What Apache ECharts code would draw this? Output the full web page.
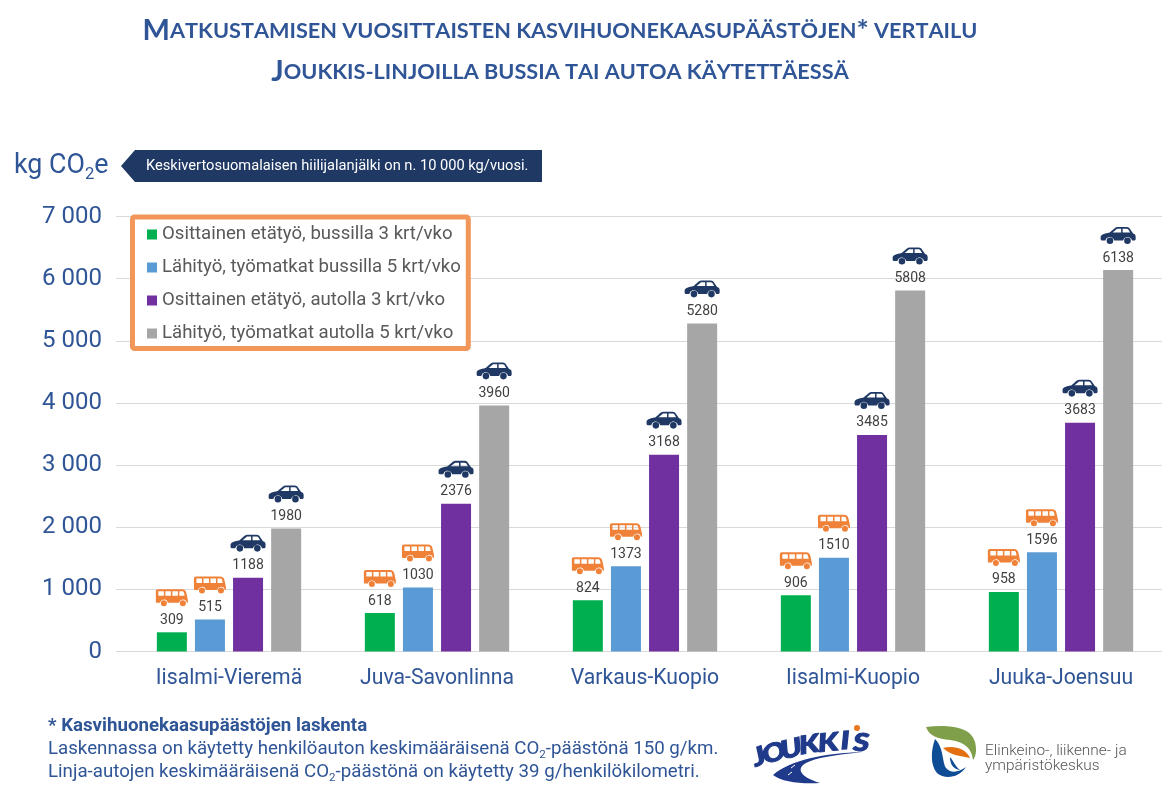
<!DOCTYPE html>
<html>
<head>
<meta charset="utf-8">
<title>Matkustamisen kasvihuonekaasupäästöt</title>
<script src="https://cdn.jsdelivr.net/npm/echarts@6/dist/echarts.min.js"></script>
<style>
  html, body { margin: 0; padding: 0; background: #fff; }
  #chart { width: 1162px; height: 800px; }
</style>
</head>
<body>
<div id="chart"></div>
<script>
// data
const categories = ['Iisalmi-Vieremä', 'Juva-Savonlinna', 'Varkaus-Kuopio', 'Iisalmi-Kuopio', 'Juuka-Joensuu']
const busPartial = [309, 618, 824, 906, 958]
const busFull = [515, 1030, 1373, 1510, 1596]
const carPartial = [1188, 2376, 3168, 3485, 3683]
const carFull = [1980, 3960, 5280, 5808, 6138]

const seriesNames = [
  'Osittainen etätyö, bussilla 3 krt/vko',
  'Lähityö, työmatkat bussilla 5 krt/vko',
  'Osittainen etätyö, autolla 3 krt/vko',
  'Lähityö, työmatkat autolla 5 krt/vko'
]
const seriesValues = [busPartial, busFull, carPartial, carFull]
const seriesColors = ['#00b050', '#5b9bd5', '#7030a0', '#a6a6a6']

const titleLines = [
  'Matkustamisen vuosittaisten kasvihuonekaasupäästöjen* vertailu',
  'Joukkis-linjoilla bussia tai autoa käytettäessä'
]

const BLUE = '#2f5597'
const NAVY = '#1f3864'
const ORANGE = '#f08138'
const LOGO_BLUE = '#1f3a8a'

// icons, windows wound the other way so they come out as holes
const busIcon = 'path://M2 0 L26 0 C28.5 0 30 1 30.6 4 L32 10.5 L32 13.5 L30.9 13.5 A4 4 0 0 0 23.1 13.5 L11.9 13.5 A4 4 0 0 0 4.1 13.5 L1 13.5 C0.4 13.5 0 13 0 12.5 L0 2 C0 0.8 0.8 0 2 0 Z ' +
  'M2.5 6.5 L8 6.5 L8 2 L2.5 2 Z M9.5 6.5 L15 6.5 L15 2 L9.5 2 Z M16.5 6.5 L22 6.5 L22 2 L16.5 2 Z M23.5 6.5 L28.8 6.5 L28 3 C27.7 2.3 27 2 26 2 L23.5 2 Z ' +
  'M5 14 A3 3 0 1 0 11 14 A3 3 0 1 0 5 14 Z M24 14 A3 3 0 1 0 30 14 A3 3 0 1 0 24 14 Z'
const carIcon = 'path://M0 10 C0 7.5 4 6.5 9 5.5 L14 1.2 C15 0.4 16 0 17 0 L26 0 C28 0 29 1 30 3 L32.5 6.5 C34.5 7 35 8 35 10 L35 12 C35 13 34 13.5 33 13.5 L31.4 13.5 A4.6 4.6 0 0 0 22.4 13.5 L13.6 13.5 A4.6 4.6 0 0 0 4.6 13.5 L2 13.5 C0.8 13.5 0 13 0 12 Z ' +
  'M12 5.5 L20.5 5.5 L20.5 1.8 L16.5 1.8 Z M22 5.5 L29.5 5.5 L27.6 2.4 C27.2 2 26.8 1.8 26 1.8 L22 1.8 Z ' +
  'M6 13.7 A3.3 3.3 0 1 0 12.6 13.7 A3.3 3.3 0 1 0 6 13.7 Z M23.5 13.7 A3.3 3.3 0 1 0 30.1 13.7 A3.3 3.3 0 1 0 23.5 13.7 Z'

// small caps by hand: capitals big, the rest uppercased in a smaller size
function smallCaps(text) {
  return text.split('').map(ch => {
    const isCap = ch !== ch.toLowerCase() || ch === '*'
    return isCap ? '{big|' + ch + '}' : '{small|' + ch.toUpperCase() + '}'
  }).join('')
}

function titleText(line, y) {
  return {
    type: 'text',
    x: 560,
    y: y,
    style: {
      text: smallCaps(line),
      align: 'center',
      verticalAlign: 'middle',
      rich: {
        big: { fontFamily: 'Lato', fontWeight: 'bold', fontSize: 29, fill: BLUE },
        small: { fontFamily: 'Lato', fontWeight: 'bold', fontSize: 21.7, fill: BLUE }
      }
    }
  }
}

function plainText(text, x, y, font, fill) {
  return {
    type: 'text',
    x: x,
    y: y,
    style: { text: text, font: font, fill: fill, verticalAlign: 'middle' }
  }
}

// text with a real lowered 2 in CO2
function co2Text(text, x, y, size) {
  const body = text.replace(/(CO)2/g, '$1{sub|2}')
  const wrapped = body.split(/(\{sub\|2\})/).map(s => s.startsWith('{sub') ? s : '{n|' + s + '}').join('')
  return {
    type: 'text',
    x: x,
    y: y,
    style: {
      text: wrapped,
      verticalAlign: 'middle',
      rich: {
        n: { fontFamily: 'Roboto', fontSize: size, fill: BLUE, lineHeight: size * 1.3 },
        sub: { fontFamily: 'Roboto', fontSize: size * 0.62, fill: BLUE, lineHeight: size * 1.3, verticalAlign: 'bottom' }
      }
    }
  }
}

const barSeries = seriesNames.map((name, i) => ({
  type: 'bar',
  name: name,
  data: seriesValues[i],
  barWidth: 30,
  barGap: '27%',
  itemStyle: { color: seriesColors[i] },
  label: {
    show: true,
    position: 'top',
    distance: 5,
    fontFamily: 'Roboto',
    fontSize: 14,
    color: '#404040'
  }
}))

const iconSeries = seriesValues.map((values, i) => ({
  type: 'pictorialBar',
  name: 'icon' + i,
  data: values,
  barWidth: 30,
  barGap: '27%',
  symbol: i < 2 ? busIcon : carIcon,
  symbolSize: i < 2 ? [32, 17] : [35, 17],
  symbolPosition: 'end',
  symbolOffset: [0, -43],
  itemStyle: { color: i < 2 ? ORANGE : NAVY },
  silent: true,
  z: 5
}))

// logos are plain shapes, drawn by a custom series because graphic has no path type
const logoPaths = [
  { d: 'M773 775 C790 760 825 753 862 752 C835 755 815 758 806 763 C797 768 798 776 820 783 C800 784 782 782 773 775 Z', fill: LOGO_BLUE },
  { d: 'M791 768 L795 765 M788 775 L792 772', fill: '#fff', stroke: '#fff' },
  { d: 'M926 727 C945 725 970 725 975 742 C977 750 976 756 973 760 C972 750 966 742 950 740 C938 739 929 736 926 727 Z', fill: '#7f9f4a' },
  { d: 'M943 748 C953 745 966 748 970 758 C960 756 950 755 943 748 Z', fill: '#e36f0f' },
  { d: 'M935 739 C931 750 930 765 937 773 C944 779 958 779 966 767 C958 773 950 773 946 768 C942 762 944 748 935 739 Z', fill: '#0f4c96' },
  { d: 'M950 757 C950 764 953 769 960 770 C955 766 953 760 950 757 Z', fill: '#0f4c96' }
]
const logoSeries = {
  type: 'custom',
  name: 'logos',
  coordinateSystem: 'none',
  silent: true,
  data: [0],
  renderItem: () => ({
    type: 'group',
    children: logoPaths.map(p => ({
      type: 'path',
      shape: { pathData: p.d },
      style: { fill: p.fill, stroke: p.stroke }
    }))
  })
}

// Joukkis wordmark climbs along a curve, so each letter sits on its own
const logoLetters = [
  ['J', 759, 757, 0.36], ['O', 774, 753, 0.3], ['U', 791, 749, 0.24], ['K', 809, 745, 0.16],
  ['K', 828, 743, 0.1], ['I', 845, 741, 0.05], ['S', 861, 743, 0]
]
const logoText = logoLetters.map(([ch, x, y, rot]) => ({
  type: 'text',
  x: x,
  y: y,
  rotation: rot,
  scaleX: 1.25,
  style: {
    text: ch,
    font: 'italic 900 25px Lato',
    fill: LOGO_BLUE,
    stroke: LOGO_BLUE,
    lineWidth: 1,
    align: 'center',
    verticalAlign: 'middle'
  }
}))

const chart = echarts.init(document.getElementById('chart'))
chart.setOption({
  animation: false,
  backgroundColor: '#fff',
  grid: { left: 125, width: 1040, top: 216.5, height: 435, outerBoundsMode: 'none' },
  legend: {
    data: seriesNames,
    orient: 'vertical',
    left: 132.5,
    top: 217,
    itemWidth: 10,
    itemHeight: 10,
    itemGap: 14,
    icon: 'rect',
    padding: [8, 7.5, 5.5, 14.5],
    borderColor: '#f2965a',
    borderWidth: 5,
    borderRadius: 2,
    backgroundColor: '#fff',
    z: 10,
    textStyle: { fontFamily: 'Roboto', fontSize: 18.6, color: '#595959' }
  },
  xAxis: {
    type: 'category',
    data: categories,
    axisLine: { lineStyle: { color: '#d9d9d9' } },
    axisTick: { show: false },
    axisLabel: { fontFamily: 'Roboto', fontSize: 21.2, color: BLUE, margin: 17 }
  },
  yAxis: {
    type: 'value',
    min: 0,
    max: 7000,
    interval: 1000,
    axisLine: { show: false },
    axisTick: { show: true, length: 9, lineStyle: { color: '#d9d9d9' } },
    splitLine: { lineStyle: { color: '#d9d9d9' } },
    axisLabel: {
      fontFamily: 'Roboto',
      fontSize: 24,
      color: BLUE,
      margin: 23,
      formatter: v => String(v).replace(/\B(?=(\d{3})+$)/g, ' ')
    }
  },
  series: barSeries.concat(iconSeries, logoSeries),
  graphic: [
    titleText(titleLines[0], 31),
    titleText(titleLines[1], 72),
    // unit + callout
    co2Text('kg CO2e', 14, 166, 26.8),
    {
      type: 'polygon',
      shape: { points: [[121, 166], [135, 150], [542, 150], [542, 182], [135, 182]] },
      style: { fill: NAVY }
    },
    plainText('Keskivertosuomalaisen hiilijalanjälki on n. 10 000 kg/vuosi.', 146, 166, '14.65px Roboto', '#fff'),
    // footnote
    plainText('* Kasvihuonekaasupäästöjen laskenta', 48, 726, 'bold 18.7px Roboto', BLUE),
    co2Text('Laskennassa on käytetty henkilöauton keskimääräisenä CO2-päästönä 150 g/km.', 48, 749, 18.7),
    co2Text('Linja-autojen keskimääräisenä CO2-päästönä on käytetty 39 g/henkilökilometri.', 48, 772, 18.7),
    // Joukkis logo
    ...logoText,
    { type: 'circle', shape: { cx: 857, cy: 728, r: 3 }, style: { fill: '#e87722' } },
    // ELY logo text
    plainText('Elinkeino-, liikenne- ja', 985, 751, '300 15.4px Roboto', '#555'),
    plainText('ympäristökeskus', 985, 766, '300 15.4px Roboto', '#555')
  ]
})
</script>
</body>
</html>
